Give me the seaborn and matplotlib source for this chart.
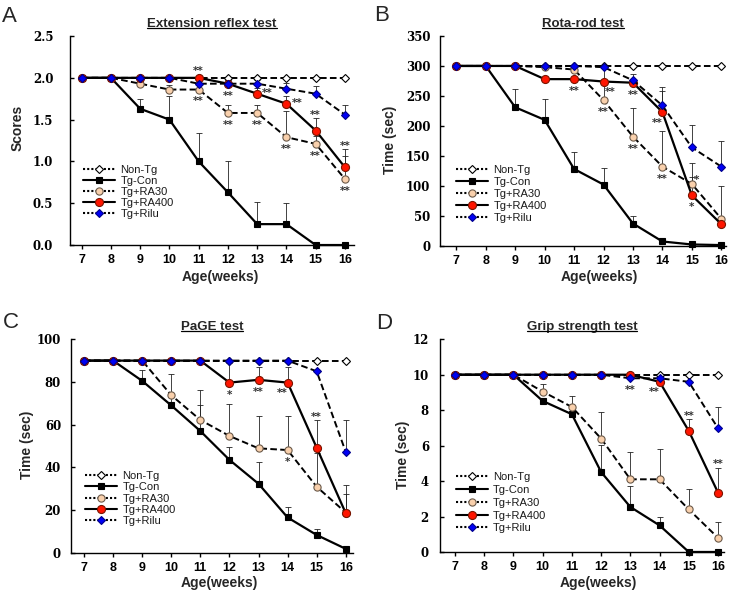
import matplotlib
matplotlib.use('Agg')
import matplotlib.pyplot as plt
from matplotlib.lines import Line2D
from matplotlib.transforms import offset_copy, IdentityTransform
import seaborn as sns

# ---- data ----
weeks = [7, 8, 9, 10, 11, 12, 13, 14, 15, 16]
groups = ['Non-Tg', 'Tg-Con', 'Tg+RA30', 'Tg+RA400', 'Tg+Rilu']

# A - extension reflex (scores)
a_nontg = [2.0, 2.0, 2.0, 2.0, 2.0, 2.0, 2.0, 2.0, 2.0, 2.0]
a_con = [2.0, 2.0, 1.63, 1.50, 1.00, 0.63, 0.25, 0.25, 0.0, 0.0]
a_con_err = [0, 0, 0.12, 0.28, 0.34, 0.37, 0.26, 0.25, 0, 0]
a_ra30 = [2.0, 2.0, 1.93, 1.86, 1.86, 1.58, 1.58, 1.29, 1.21, 0.79]
a_ra30_err = [0, 0, 0.03, 0.05, 0, 0.09, 0.09, 0.31, 0.10, 0.27]
a_ra400 = [2.0, 2.0, 2.0, 2.0, 2.0, 1.93, 1.81, 1.69, 1.37, 0.93]
a_ra400_err = [0, 0, 0, 0, 0, 0.05, 0.07, 0.09, 0.15, 0.22]
a_rilu = [2.0, 2.0, 2.0, 2.0, 1.93, 1.93, 1.93, 1.87, 1.81, 1.56]
a_rilu_err = [0, 0, 0, 0, 0.05, 0.05, 0.05, 0.07, 0.09, 0.11]
a_yticks = [0.0, 0.5, 1.0, 1.5, 2.0, 2.5]

# B - rota-rod (sec)
b_nontg = [300, 300, 300, 300, 300, 300, 300, 300, 300, 300]
b_con = [300, 300, 231, 210, 128, 102, 37, 7, 2, 1]
b_con_err = [0, 0, 30, 34, 28, 28, 12, 0, 0, 0]
b_ra30 = [300, 300, 300, 298, 294, 243, 182, 132, 103, 45]
b_ra30_err = [0, 0, 0, 0, 0, 55, 47, 60, 35, 55]
b_ra400 = [300, 300, 300, 278, 278, 274, 272, 223, 84, 36]
b_ra400_err = [0, 0, 0, 0, 0, 0, 0, 42, 30, 0]
b_rilu = [300, 300, 300, 300, 300, 298, 276, 234, 164, 132]
b_rilu_err = [0, 0, 0, 0, 0, 0, 10, 25, 38, 42]
b_yticks = [0, 50, 100, 150, 200, 250, 300, 350]

# C - PaGE (sec)
c_nontg = [90, 90, 90, 90, 90, 90, 90, 90, 90, 90]
c_con = [90, 90, 80.5, 69, 57, 43.5, 32.3, 16.5, 8.3, 1.8]
c_con_err = [0, 0, 5, 4, 12, 6, 10, 5, 2.7, 0]
c_ra30 = [90, 90, 90, 73.8, 62.2, 54.7, 48.9, 48.1, 30.9, 18.8]
c_ra30_err = [0, 0, 0, 10, 14, 15, 15, 16, 16, 13]
c_ra400 = [90, 90, 90, 90, 90, 79.7, 81, 79.7, 49.2, 18.5]
c_ra400_err = [0, 0, 0, 0, 0, 9, 6, 7.5, 13, 9]
c_rilu = [90, 90, 90, 90, 90, 90, 90, 90, 85, 47.2]
c_rilu_err = [0, 0, 0, 0, 0, 0, 0, 0, 0, 15]
c_yticks = [0, 20, 40, 60, 80, 100]

# D - grip strength (sec)
d_nontg = [10, 10, 10, 10, 10, 10, 10, 10, 10, 10]
d_con = [10, 10, 10, 8.52, 7.77, 4.51, 2.54, 1.5, 0, 0]
d_con_err = [0, 0, 0, 0, 0, 1.5, 1.2, 0.5, 0, 0]
d_ra30 = [10, 10, 10, 9.05, 8.18, 6.4, 4.1, 4.1, 2.4, 0.8]
d_ra30_err = [0, 0, 0, 0.4, 0.62, 1.5, 1.56, 1.7, 1.17, 0.9]
d_ra400 = [10, 10, 10, 10, 10, 10, 10, 9.6, 6.83, 3.35]
d_ra400_err = [0, 0, 0, 0, 0, 0, 0, 0, 0.66, 1.4]
d_rilu = [10, 10, 10, 10, 10, 10, 9.8, 9.8, 9.6, 6.98]
d_rilu_err = [0, 0, 0, 0, 0, 0, 0, 0, 0, 1.2]
d_yticks = [0, 2, 4, 6, 8, 10, 12]

# significance marks: (group, week, text, where)
a_stars = [('Tg+RA400', 11, '**', 'above'), ('Tg+RA30', 11, '**', 'below'),
           ('Tg+RA400', 12, '**', 'below'), ('Tg+RA30', 12, '**', 'below'),
           ('Tg+RA400', 13, '**', 'right'), ('Tg+RA30', 13, '**', 'below'),
           ('Tg+RA400', 14, '**', 'right'), ('Tg+RA30', 14, '**', 'below'),
           ('Tg+RA400', 15, '**', 'above_err'), ('Tg+RA30', 15, '**', 'below'),
           ('Tg+RA400', 16, '**', 'above_err'), ('Tg+RA30', 16, '**', 'below')]
b_stars = [('Tg+RA400', 11, '**', 'below'), ('Tg+RA400', 12, '**', 'below_right'),
           ('Tg+RA30', 12, '**', 'below'), ('Tg+RA400', 13, '**', 'below'),
           ('Tg+RA30', 13, '**', 'below'), ('Tg+RA400', 14, '**', 'below_left'),
           ('Tg+RA30', 14, '**', 'below'), ('Tg+RA30', 15, '*', 'above_right'),
           ('Tg+RA400', 15, '*', 'below')]
c_stars = [('Tg+RA400', 12, '*', 'below'), ('Tg+RA400', 13, '**', 'below'),
           ('Tg+RA400', 14, '**', 'below_left'), ('Tg+RA400', 15, '**', 'above_err'),
           ('Tg+RA30', 14, '*', 'below')]
d_stars = [('Tg+Rilu', 13, '**', 'below'), ('Tg+RA400', 14, '**', 'below_left'),
           ('Tg+RA400', 15, '**', 'above_err'), ('Tg+RA400', 16, '**', 'above_err')]

# ---- styling ----
sns.set_style('ticks')
plt.rcParams['font.family'] = ['Liberation Sans', 'DejaVu Sans']
plt.rcParams['axes.linewidth'] = 1.0

dash = (0, (3.4, 1.7))
dots = (0, (1, 1))
styles = {
    'Non-Tg':   dict(ls=dash, lw=1.4, marker='D', ms=4.0, fc='white', ec='black', leg=dots),
    'Tg-Con':   dict(ls='-', lw=1.6, marker='s', ms=4.6, fc='black', ec='black', leg='-'),
    'Tg+RA30':  dict(ls=dash, lw=1.4, marker='o', ms=5.2, fc='#F9D0AC', ec='#6b5a4a', leg=dots),
    'Tg+RA400': dict(ls='-', lw=1.6, marker='o', ms=5.8, fc='#FF1500', ec='#7a1500', leg='-'),
    'Tg+Rilu':  dict(ls=dash, lw=1.4, marker='D', ms=4.2, fc='#0000F5', ec='#00008a', leg=dots),
}
star_offsets = {'below': (0, -7), 'above': (0, 6.5), 'above_err': (0, 4.0),
                'right': (7.5, 2), 'below_right': (5, -6), 'below_left': (-3.6, -6),
                'above_right': (3.6, 4.3)}

panels = [
    dict(letter='A', title='Extension reflex test', ylabel='Scores', yticks=a_yticks, fmt='{:.1f}',
         means=[a_nontg, a_con, a_ra30, a_ra400, a_rilu],
         errs=[None, a_con_err, a_ra30_err, a_ra400_err, a_rilu_err], stars=a_stars,
         rect=[0.0947, 0.5861, 0.3843, 0.3530], xlim=(6.60, 16.31), ypad=12,
         ylab=(-0.183, 0.56), xlab=(0.528, -0.153), leg=(0.046, 0.382), lsp=0.08,
         lpos=(2, 22)),
    dict(letter='B', title='Rota-rod test', ylabel='Time (sec)', yticks=b_yticks, fmt='{:.0f}',
         means=[b_nontg, b_con, b_ra30, b_ra400, b_rilu],
         errs=[None, b_con_err, b_ra30_err, b_ra400_err, b_rilu_err], stars=b_stars,
         rect=[0.5954, 0.5850, 0.3874, 0.3542], xlim=(6.446, 16.17), ypad=7,
         ylab=(-0.175, 0.506), xlab=(0.555, -0.149), leg=(0.056, 0.384), lsp=0.18,
         lpos=(374, 21)),
    dict(letter='C', title='PaGE test', ylabel='Time (sec)', yticks=c_yticks, fmt='{:.0f}',
         means=[c_nontg, c_con, c_ra30, c_ra400, c_rilu],
         errs=[None, c_con_err, c_ra30_err, c_ra400_err, c_rilu_err], stars=c_stars,
         rect=[0.0957, 0.0664, 0.3824, 0.3605], xlim=(6.543, 16.26), ypad=7,
         ylab=(-0.155, 0.505), xlab=(0.525, -0.142), leg=(0.051, 0.382), lsp=0.11,
         lpos=(3, 328)),
    dict(letter='D', title='Grip strength test', ylabel='Time (sec)', yticks=d_yticks, fmt='{:.0f}',
         means=[d_nontg, d_con, d_ra30, d_ra400, d_rilu],
         errs=[None, d_con_err, d_ra30_err, d_ra400_err, d_rilu_err], stars=d_stars,
         rect=[0.5954, 0.0676, 0.3843, 0.3593], xlim=(6.487, 16.205), ypad=8,
         ylab=(-0.130, 0.458), xlab=(0.556, -0.146), leg=(0.056, 0.375), lsp=0.25,
         lpos=(376, 329)),
]

W, H = 739, 592
fig = plt.figure(figsize=(W / 100, H / 100), dpi=100)
titles = []

for p in panels:
    ax = fig.add_axes(p['rect'])
    means = dict(zip(groups, p['means']))
    errs = dict(zip(groups, p['errs']))

    for i, g in enumerate(groups):
        st = styles[g]
        e = errs[g]
        if e is not None:
            xs = [w for w, v in zip(weeks, e) if v > 0]
            ys = [m for m, v in zip(means[g], e) if v > 0]
            es = [v for v in e if v > 0]
            ax.errorbar(xs, ys, yerr=[[0] * len(es), es], fmt='none', ecolor='#222222',
                        elinewidth=0.6, capsize=2.0, capthick=0.6, zorder=1.5, clip_on=False)
        sns.lineplot(x=weeks, y=means[g], ax=ax, color='black', linestyle=st['ls'],
                     linewidth=st['lw'], marker=st['marker'], markersize=st['ms'],
                     markerfacecolor=st['fc'], markeredgecolor=st['ec'],
                     markeredgewidth=0.8, clip_on=False, zorder=3 + i)

    # significance asterisks
    for g, w, txt, where in p['stars']:
        k = weeks.index(w)
        y = means[g][k]
        if where == 'above_err':
            y = y + errs[g][k]
        dx, dy = star_offsets[where]
        fs = 7.5
        tr = offset_copy(ax.transData, fig=fig, x=dx, y=dy - 0.5 * fs, units='points')
        ax.text(w, y, txt, transform=tr, ha='center', va='baseline', fontsize=fs,
                fontfamily='DejaVu Sans', fontweight='bold', color='#333333', zorder=10)

    ax.set_xlim(*p['xlim'])
    ax.set_ylim(p['yticks'][0], p['yticks'][-1])
    ax.set_xticks(weeks)
    ax.set_xticklabels([str(w) for w in weeks], fontsize=9, fontweight='bold')
    ax.set_yticks(p['yticks'])
    ax.set_yticklabels([p['fmt'].format(t) for t in p['yticks']], fontfamily='DejaVu Serif',
                       fontweight='bold', fontsize=8.5)
    ax.tick_params(axis='x', direction='out', length=3, width=1.0, pad=3.5, colors='black')
    ax.tick_params(axis='y', direction='in', length=3, width=1.0, pad=p['ypad'], colors='black')
    sns.despine(ax=ax)
    for s in ['left', 'bottom']:
        ax.spines[s].set_color('black')
        ax.spines[s].set_linewidth(1.0)

    ax.set_xlabel('Age(weeks)', fontsize=10, fontweight='bold', va='center')
    ax.xaxis.set_label_coords(*p['xlab'])
    ax.set_ylabel(p['ylabel'], fontsize=10, fontweight='bold', va='center')
    ax.yaxis.set_label_coords(*p['ylab'])

    t = ax.text(0.5, 1.0, p['title'], fontsize=9.5, fontweight='bold', ha='center', va='baseline',
                transform=offset_copy(ax.transAxes, fig=fig, x=0, y=6.8, units='points'))
    titles.append((ax, t))

    handles = [Line2D([0], [0], color='black', linestyle=styles[g]['leg'], linewidth=1.5,
                      marker=styles[g]['marker'], markersize=styles[g]['ms'],
                      markerfacecolor=styles[g]['fc'], markeredgecolor=styles[g]['ec'],
                      markeredgewidth=0.8) for g in groups]
    ax.legend(handles=handles, labels=groups, loc='upper left', bbox_to_anchor=p['leg'],
              frameon=False, fontsize=8, handlelength=2.9, handletextpad=0.45,
              labelspacing=p['lsp'], borderpad=0, borderaxespad=0, labelcolor='#1a1a1a')

    fig.text(p['lpos'][0] / W, 1 - p['lpos'][1] / H, p['letter'], fontsize=16,
             ha='left', va='baseline')

# underline the panel titles
fig.canvas.draw()
for ax, t in titles:
    bb = t.get_window_extent()
    base = ax.transAxes.transform((0.5, 1.0))[1] + 6.8 * fig.dpi / 72
    y = base - 1.6
    fig.add_artist(Line2D([bb.x0, bb.x1], [y, y], transform=IdentityTransform(),
                          color='black', linewidth=0.9))

fig.savefig('out.png', dpi=100)
